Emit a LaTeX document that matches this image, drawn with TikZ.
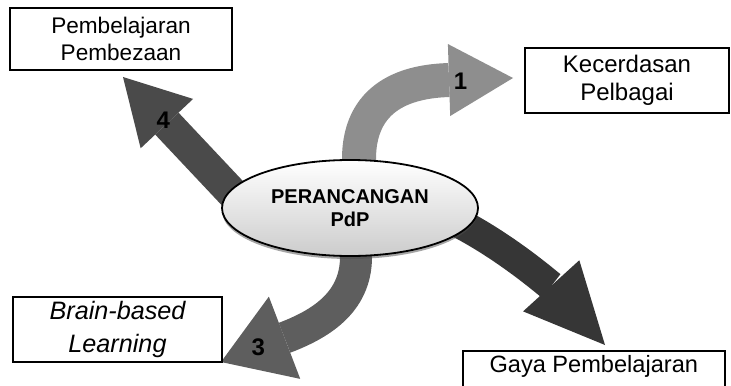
\documentclass[tikz,border=0pt]{standalone}
\usepackage{fontspec}
\setmainfont{Liberation Sans}
\usetikzlibrary{arrows.meta,shapes.geometric,shadows,backgrounds}
\definecolor{arrowlight}{HTML}{8E8E8E}
\definecolor{arrowmid}{HTML}{5E5E5E}
\definecolor{arrowdark}{HTML}{4A4A4A}
\definecolor{arrowdeep}{HTML}{363636}
\tikzset{
  topicbox/.style={
    draw=black,
    line width=0.8pt,
    fill=white,
    align=center,
    inner sep=2pt
  },
  corebox/.style={
    ellipse,
    draw=black,
    line width=0.9pt,
    top color=white,
    bottom color=black!20,
    drop shadow={shadow xshift=0pt, shadow yshift=-1.5pt, fill=black!70},
    minimum width=128pt,
    minimum height=48pt,
    inner sep=0pt,
    align=center,
    font=\fontsize{10}{11.5}\selectfont\bfseries
  },
  blockarrow/.style={line width=16pt, -{Triangle[length=32pt, width=36pt, line width=0pt]}},
  stepnum/.style={font=\fontsize{12}{12}\selectfont\bfseries, text=black}
}

\begin{document}
\begin{tikzpicture}[x=0.5pt, y=-0.5pt]
\useasboundingbox (0,0) rectangle (731,385);
\node[corebox] (core) at (350,208) {PERANCANGAN\\PdP};
\node[topicbox, minimum width=111pt, minimum height=31pt, font=\fontsize{11.3}{13.5}\selectfont] (pembezaan) at (121,39) {Pembelajaran\\Pembezaan};
\node[topicbox, minimum width=102pt, minimum height=32.5pt, font=\fontsize{12}{14}\selectfont] (kecerdasan) at (627,80.5) {Kecerdasan\\Pelbagai};
\node[topicbox, minimum width=104.5pt, minimum height=32.5pt, font=\fontsize{12.6}{16.5}\selectfont\itshape] (brain) at (117.5,329.5) {Brain-based\\Learning};
\node[topicbox, anchor=north west, minimum width=131pt, text height=9pt, text depth=20pt, font=\fontsize{11.8}{14}\selectfont] (gaya) at (462,350) {Gaya Pembelajaran};

\coordinate (tip1) at (513,78);
\coordinate (tip2) at (605,345);
\coordinate (tip3) at (221,362);
\coordinate (tip4) at (123,77);

\begin{scope}[on background layer]
% 1 - up and over to the right
\draw[blockarrow, draw=arrowlight, line width=17pt] ([xshift=4.5pt,yshift=-12pt]core.north) -- ([xshift=4.5pt]core.north)
  .. controls +(0,-70) and +(-95,3) .. (tip1) node[stepnum, pos=0.8] {1};
% 2 - down to the right
\draw[blockarrow, draw=arrowdeep, line width=15pt, -{Triangle[length=40pt, width=38pt, line width=0pt]}]
  ([xshift=45pt,yshift=-3pt]core.center) .. controls +(60,26) and +(-50,-55) .. (tip2);
% 3 - down and round to the left
\draw[blockarrow, draw=arrowmid, -{Triangle[length=34pt, width=44pt, line width=0pt]}] ([xshift=3pt,yshift=-11pt]core.center) -- ([xshift=3pt]core.south)
  .. controls +(0,47) and +(97,-37) .. (tip3) node[stepnum, pos=0.86] {3};
% 4 - straight up to the left
\draw[blockarrow, draw=arrowdark] ([xshift=10pt,yshift=-10pt]core.172) -- (tip4) node[stepnum, pos=0.68] {4};
\end{scope}
\end{tikzpicture}
\end{document}
